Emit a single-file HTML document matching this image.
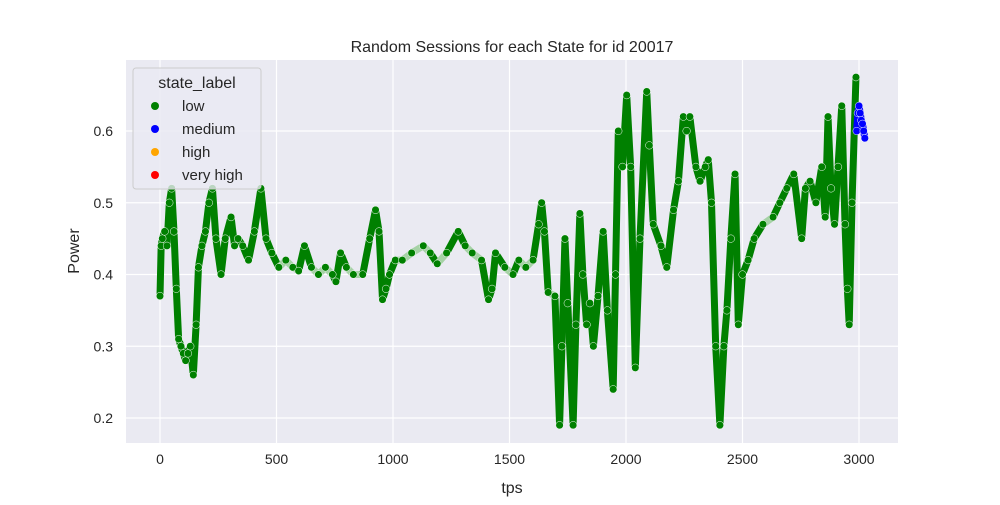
<!DOCTYPE html>
<html><head><meta charset="utf-8"><style>
body{margin:0;background:#fff;}
svg text{font-family:"Liberation Sans","DejaVu Sans",sans-serif;fill:#262626;}
</style></head><body>
<svg id="chart" width="1000" height="500" viewBox="0 0 1000 500" xmlns="http://www.w3.org/2000/svg">
<rect x="0" y="0" width="1000" height="500" fill="#fff"/>
<rect x="126" y="60" width="772" height="383" fill="#eaeaf2"/>
<g id="grid"></g>
<g id="ticks"></g>
<g id="marks"></g>
<text x="512" y="52" font-size="16" text-anchor="middle">Random Sessions for each State for id 20017</text>
<text x="512" y="493" font-size="16" text-anchor="middle">tps</text>
<text x="79" y="251" font-size="16" text-anchor="middle" transform="rotate(-90 79 251)">Power</text>
<g>
<rect x="133" y="68" width="128" height="121" rx="3" fill="#eaeaf2" fill-opacity="0.8" stroke="#cccccc"/>
<text x="197" y="88" font-size="16" text-anchor="middle">state_label</text>
<circle cx="155" cy="106" r="4" fill="green"/>
<text x="182" y="111" font-size="15">low</text>
<circle cx="155" cy="129" r="4" fill="blue"/>
<text x="182" y="134" font-size="15">medium</text>
<circle cx="155" cy="152" r="4" fill="orange"/>
<text x="182" y="157" font-size="15">high</text>
<circle cx="155" cy="175" r="4" fill="red"/>
<text x="182" y="180" font-size="15">very high</text>
</g>
</svg>
<script>
const xTicks=[0,500,1000,1500,2000,2500,3000];
const yTicks=[0.2,0.3,0.4,0.5,0.6];
const yTickLabels=["0.2","0.3","0.4","0.5","0.6"];
const lowTps=[0,5,10,20,30,40,50,60,70,80,90,100,110,120,130,143,155,165,180,195,210,225,240,262,280,305,320,335,355,380,405,433,455,480,510,540,570,595,620,650,680,710,740,755,775,800,830,870,900,925,940,955,970,985,1010,1040,1080,1130,1160,1190,1230,1280,1310,1340,1380,1410,1425,1440,1480,1515,1540,1570,1601,1625,1638,1650,1666,1695,1715,1725,1738,1750,1773,1785,1802,1815,1831,1845,1860,1880,1902,1920,1945,1955,1967,1985,2003,2020,2040,2060,2089,2100,2117,2150,2175,2204,2225,2246,2260,2274,2300,2318,2340,2353,2367,2385,2403,2420,2433,2450,2468,2482,2500,2524,2550,2588,2631,2660,2690,2720,2754,2770,2790,2815,2840,2855,2867,2880,2895,2910,2926,2940,2950,2958,2970,2987];
const lowPower=[0.37,0.44,0.45,0.46,0.44,0.50,0.52,0.46,0.38,0.31,0.30,0.29,0.28,0.29,0.30,0.26,0.33,0.41,0.44,0.46,0.50,0.52,0.45,0.40,0.45,0.48,0.44,0.45,0.44,0.42,0.46,0.52,0.45,0.43,0.41,0.42,0.41,0.405,0.44,0.41,0.40,0.41,0.40,0.39,0.43,0.41,0.40,0.40,0.45,0.49,0.46,0.365,0.38,0.40,0.42,0.42,0.43,0.44,0.43,0.415,0.43,0.46,0.44,0.43,0.42,0.365,0.38,0.43,0.41,0.40,0.42,0.41,0.42,0.47,0.50,0.46,0.375,0.37,0.19,0.30,0.45,0.36,0.19,0.33,0.485,0.40,0.33,0.36,0.30,0.37,0.46,0.35,0.24,0.40,0.60,0.55,0.65,0.55,0.27,0.45,0.655,0.58,0.47,0.44,0.41,0.49,0.53,0.62,0.60,0.62,0.55,0.53,0.55,0.56,0.50,0.30,0.19,0.30,0.35,0.45,0.54,0.33,0.40,0.42,0.45,0.47,0.48,0.50,0.52,0.54,0.45,0.52,0.53,0.50,0.55,0.48,0.62,0.52,0.47,0.55,0.635,0.47,0.38,0.33,0.50,0.675];
const medTps=[2990,2995,3000,3005,3010,3015,3020,3025];
const medPower=[0.60,0.625,0.635,0.625,0.615,0.61,0.60,0.59];

const xs=v=>160+v*0.233;
const ys=v=>131+(0.6-v)*717.5;
const NS="http://www.w3.org/2000/svg";
const grid=document.getElementById('grid'),ticks=document.getElementById('ticks'),marks=document.getElementById('marks');
function mk(t,a,p){const e=document.createElementNS(NS,t);for(const k in a)e.setAttribute(k,a[k]);p.appendChild(e);return e;}
xTicks.forEach(t=>{
 const l=mk('line',{x1:xs(t),x2:xs(t),y1:60,y2:443,stroke:'#fff','stroke-width':1.2},grid);
 
 
 const tx=mk('text',{x:xs(t),y:464,'font-size':14,'text-anchor':'middle'},ticks);
 tx.textContent=String(t);
 
 
});
yTicks.forEach((t,i)=>{
 const l=mk('line',{x1:126,x2:898,y1:ys(t),y2:ys(t),stroke:'#fff','stroke-width':1.2},grid);
 
 
 const tx=mk('text',{x:113,y:ys(t)+5,'font-size':14,'text-anchor':'end'},ticks);
 tx.textContent=yTickLabels[i];
 
 
});
function drawSeries(T,P,color,pale,name){
 for(let i=0;i<T.length-1;i++){
  const x1=xs(T[i]),y1=ys(P[i]),x2=xs(T[i+1]),y2=ys(P[i+1]);
  const slope=Math.abs(y2-y1)/Math.max(0.1,x2-x1);
  const seg=mk('line',{x1:x1,y1:y1,x2:x2,y2:y2,stroke:slope<1.2?pale:color,'stroke-width':7,'stroke-linecap':'round'},marks);
  
  
 }
 T.forEach((t,i)=>{
  const c=mk('circle',{cx:xs(t),cy:ys(P[i]),r:3.8,fill:color,stroke:'#fff','stroke-width':0.5},marks);
  
  
 });
}
drawSeries(lowTps,lowPower,'green','#a6d2a6','low');
drawSeries(medTps,medPower,'blue','#6a6aff','medium');
</script>
</body></html>
